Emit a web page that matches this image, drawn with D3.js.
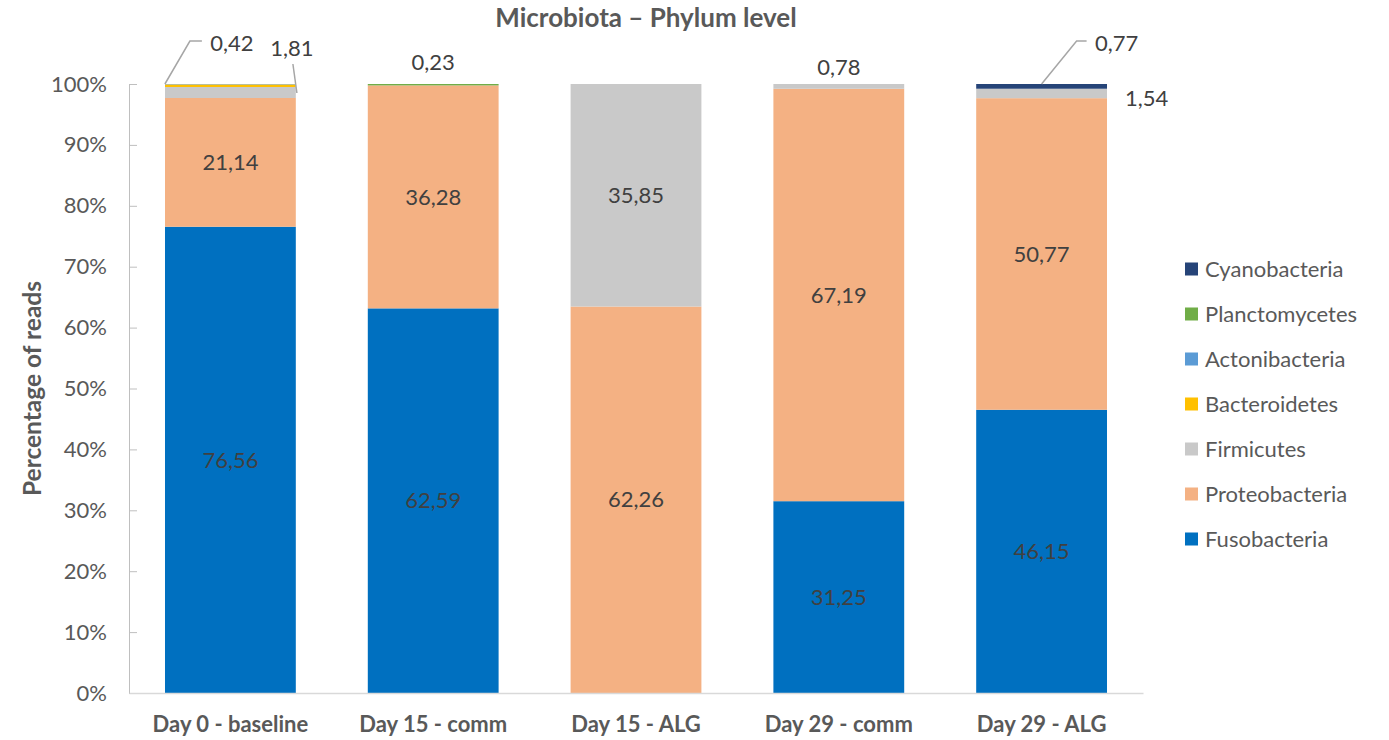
<!DOCTYPE html>
<html>
<head>
<meta charset="utf-8">
<script src="https://cdn.jsdelivr.net/npm/d3@7"></script>
<style>
  html, body { margin: 0; padding: 0; background: #fff; }
  svg { display: block; font-family: Lato, "Open Sans", sans-serif; }
</style>
</head>
<body>
<svg id="chart" width="1389" height="740"></svg>
<script>
// Sample groups along the x axis
const categories = ["Day 0 - baseline", "Day 15 - comm", "Day 15 - ALG", "Day 29 - comm", "Day 29 - ALG"];

// Phyla, bottom of the stack first
const phyla = ["Fusobacteria", "Proteobacteria", "Firmicutes", "Bacteroidetes", "Actonibacteria", "Planctomycetes", "Cyanobacteria"];

// Percentage of reads per phylum, one value per category
const fusobacteria   = [76.56, 62.59, 0,     31.25, 46.15];
const proteobacteria = [21.14, 36.28, 62.26, 67.19, 50.77];
const firmicutes     = [1.81,  0,     35.85, 0.78,  1.54];
const bacteroidetes  = [0.42,  0,     0,     0,     0];
const actonibacteria = [0.07,  0,     0,     0,     0];
const planctomycetes = [0,     0.23,  0,     0,     0];
const cyanobacteria  = [0,     0,     0,     0,     0.77];

const yTicks = [0, 10, 20, 30, 40, 50, 60, 70, 80, 90, 100];

const colors = {
  Fusobacteria:   "#0070c0",
  Proteobacteria: "#f4b183",
  Firmicutes:     "#c9c9c9",
  Bacteroidetes:  "#ffc000",
  Actonibacteria: "#5b9bd5",
  Planctomycetes: "#70ad47",
  Cyanobacteria:  "#264478"
};

const seriesValues = {
  Fusobacteria: fusobacteria,
  Proteobacteria: proteobacteria,
  Firmicutes: firmicutes,
  Bacteroidetes: bacteroidetes,
  Actonibacteria: actonibacteria,
  Planctomycetes: planctomycetes,
  Cyanobacteria: cyanobacteria
};

// Rows for d3.stack, each category normalised to 100 %
const rows = categories.map((c, i) => {
  const row = { category: c };
  let total = 0;
  phyla.forEach(p => { total += seriesValues[p][i]; });
  phyla.forEach(p => { row[p] = seriesValues[p][i] / total * 100; row["raw_" + p] = seriesValues[p][i]; });
  return row;
});

const svg = d3.select("#chart");
const margin = { left: 129, right: 1389 - 1143, top: 84, bottom: 740 - 693 };
const W = 1389, H = 740;

const x = d3.scaleBand().domain(categories).range([margin.left, W - margin.right]).paddingInner(0.355).paddingOuter(0.1775);
const y = d3.scaleLinear().domain([0, 100]).range([H - margin.bottom, margin.top]);

const stacked = d3.stack().keys(phyla)(rows);

const textColor = "#595959";
const labelColor = "#404040";

// Title
svg.append("text")
  .attr("x", 646).attr("y", 27)
  .attr("text-anchor", "middle")
  .attr("font-size", 26).attr("font-weight", "bold")
  .attr("fill", textColor)
  .text("Microbiota – Phylum level");

// Y axis title
svg.append("text")
  .attr("transform", `translate(41, ${(y(0) + y(100)) / 2}) rotate(-90)`)
  .attr("text-anchor", "middle")
  .attr("font-size", 24.5).attr("font-weight", "bold")
  .attr("fill", textColor)
  .text("Percentage of reads");

// Bars
const layers = svg.append("g").selectAll("g")
  .data(stacked).join("g")
  .attr("fill", d => colors[d.key]);

layers.selectAll("rect")
  .data(d => d.map(v => ({ v, key: d.key })))
  .join("rect")
  .attr("x", d => x(d.v.data.category))
  .attr("width", x.bandwidth())
  .attr("y", d => y(d.v[1]))
  .attr("height", d => Math.max(0, y(d.v[0]) - y(d.v[1])));

// Y axis: line with inward ticks
const yAxis = d3.axisLeft(y).tickValues(yTicks).tickFormat(d => d + "%").tickSize(-8).tickPadding(22);
const gy = svg.append("g").attr("transform", `translate(${margin.left},0)`).call(yAxis);
gy.select(".domain").attr("stroke", "#bfbfbf");
gy.selectAll(".tick line").attr("stroke", "#bfbfbf");
gy.selectAll(".tick text").attr("font-size", 22).attr("fill", textColor).attr("font-family", "Lato, sans-serif");

// X axis baseline
const xAxis = d3.axisBottom(x).tickSize(0).tickPadding(23);
const gx = svg.append("g").attr("transform", `translate(0,${y(0)})`).call(xAxis);
gx.select(".domain").attr("stroke", "#d9d9d9").attr("stroke-width", 1.5);
gx.selectAll(".tick text").attr("font-size", 22).attr("font-weight", "bold").attr("fill", textColor).attr("font-family", "Lato, sans-serif");

// Value labels inside large segments
const inside = [];
stacked.forEach(layer => {
  layer.forEach(v => {
    const raw = v.data["raw_" + layer.key];
    if (raw >= 5) inside.push({ cat: v.data.category, y0: v[0], y1: v[1], raw });
  });
});
const fmt = v => v.toFixed(2).replace(".", ",");
svg.append("g").selectAll("text").data(inside).join("text")
  .attr("x", d => x(d.cat) + x.bandwidth() / 2)
  .attr("y", d => (y(d.y0) + y(d.y1)) / 2)
  .attr("dy", "0.35em")
  .attr("text-anchor", "middle")
  .attr("font-size", 22).attr("fill", labelColor)
  .text(d => fmt(d.raw));

// Small segments: labels placed above/beside the bar, some with leader lines.
// Offsets are relative to the bar centre (dx) and the 100 % line (dy).
const outsideLabels = [
  { cat: "Day 0 - baseline", key: "Bacteroidetes", dx: 1.5,  dy: -41, leader: [[-65.5, 0], [-40.5, -43], [-28.5, -43]] },
  { cat: "Day 0 - baseline", key: "Firmicutes",    dx: 61.5, dy: -36, leader: [[66.5, 9], [62.5, -20]] },
  { cat: "Day 15 - comm",    key: "Planctomycetes", dx: 0,   dy: -22 },
  { cat: "Day 29 - comm",    key: "Firmicutes",    dx: 0,    dy: -17 },
  { cat: "Day 29 - ALG",     key: "Cyanobacteria", dx: 75,   dy: -41, leader: [[0, 0], [35, -43], [45, -43]] },
  { cat: "Day 29 - ALG",     key: "Firmicutes",    dx: 105,  dy: 14 }
];
const og = svg.append("g");
outsideLabels.forEach(l => {
  const cx = x(l.cat) + x.bandwidth() / 2;
  const top = y(100);
  const i = categories.indexOf(l.cat);
  if (l.leader) {
    og.append("path")
      .attr("d", d3.line()(l.leader.map(p => [cx + p[0], top + p[1]])))
      .attr("fill", "none").attr("stroke", "#a6a6a6").attr("stroke-width", 1.5);
  }
  og.append("text")
    .attr("x", cx + l.dx).attr("y", top + l.dy)
    .attr("dy", "0.35em").attr("text-anchor", "middle")
    .attr("font-size", 22).attr("fill", labelColor)
    .text(fmt(seriesValues[l.key][i]));
});

// Legend, top entry last in the stack
const legendOrder = phyla.slice().reverse();
const lg = svg.append("g").selectAll("g").data(legendOrder).join("g")
  .attr("transform", (d, i) => `translate(1185, ${269 + i * 45})`);
lg.append("rect").attr("x", 0).attr("y", -6.5).attr("width", 13).attr("height", 13).attr("fill", d => colors[d]);
lg.append("text").attr("x", 20).attr("dy", "0.35em").attr("font-size", 22).attr("fill", textColor).text(d => d);
</script>
</body>
</html>
